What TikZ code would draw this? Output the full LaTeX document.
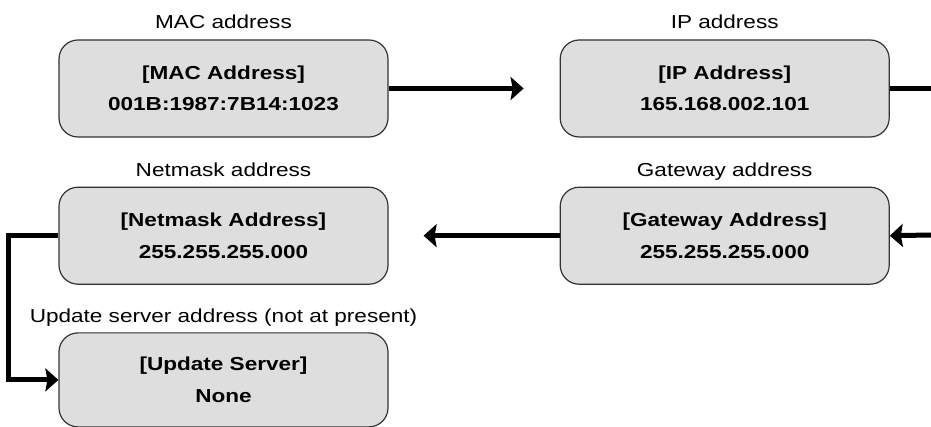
\documentclass[tikz,border=0pt]{standalone}
\usepackage{fontspec}
\setmainfont{Liberation Sans}[FakeStretch=1.2]
\usepackage{xcolor}
\usepackage{tikz}
\usetikzlibrary{arrows.meta,positioning}

\begin{document}
\begin{tikzpicture}[x=1pt, y=-1pt,
  addr/.style={draw=black!80, line width=1.2pt, fill=black!13, rounded corners=19pt, align=center,
    minimum width=329pt, minimum height=97pt, inner sep=0pt, font=\bfseries\fontsize{18.8}{31.5}\selectfont},
  title/.style={inner sep=0pt, font=\fontsize{18.8}{22}\selectfont},
  wire/.style={line width=5pt},
  link/.style={wire, -{Stealth[length=13pt, width=23pt, inset=2pt]}}]
  \useasboundingbox (0,0) rectangle (931,427);
  \node[addr] (mac) at (223.5,88.5) {[MAC Address]\\001B:1987:7B14:1023};
  \node[addr, right=171pt of mac] (ip) {[IP Address]\\165.168.002.101};
  \node[addr, below=49pt of mac] (netmask) {[Netmask Address]\\255.255.255.000};
  \node[addr, below=49pt of ip] (gateway) {[Gateway Address]\\255.255.255.000};
  \node[addr, below=47.5pt of netmask, minimum height=94pt] (update) {[Update Server]\\None};
  \node[title, above=11pt of mac, anchor=base] (mactitle) {MAC address};
  \node[title, above=11pt of ip, anchor=base] (iptitle) {IP address};
  \node[title, above=10pt of netmask, anchor=base] (netmasktitle) {Netmask address};
  \node[title, above=10pt of gateway, anchor=base] (gatewaytitle) {Gateway address};
  \node[title, above=9.5pt of update, anchor=base] (updatetitle) {Update server address (not at present)};
  % ends that leave the picture on the right
  \coordinate (ipout) at (931,88.5);
  \coordinate (gatewayin) at (931,235);
  \draw[link] (mac.east) -- ([xshift=-36pt]ip.west);
  \draw[wire] (ip.east) -- (ipout);
  \draw[link] (gatewayin) -- (gateway.east);
  \draw[link] (gateway.west) -- ([xshift=35pt]netmask.east);
  \draw[link] (netmask.west) -- ++(-49.5,0) |- (update.west);
\end{tikzpicture}
\end{document}
